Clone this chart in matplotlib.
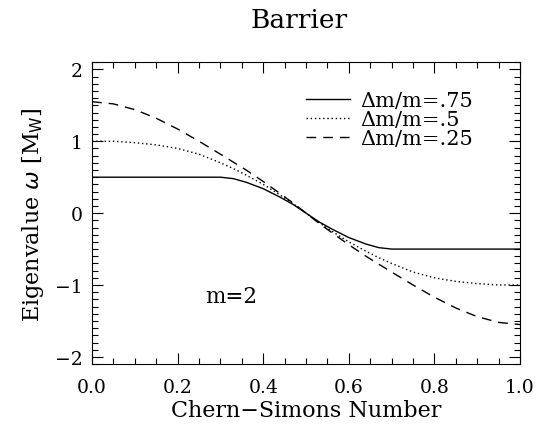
import numpy as np
import matplotlib
matplotlib.use('Agg')
import matplotlib.pyplot as plt
from matplotlib.ticker import MultipleLocator

plt.rcParams['font.family'] = 'DejaVu Serif'

# Chern-Simons number
cs = [0.00, 0.05, 0.10, 0.15, 0.20, 0.25, 0.30, 0.33, 0.36, 0.40, 0.44, 0.47, 0.50,
      0.53, 0.56, 0.60, 0.64, 0.67, 0.70, 0.75, 0.80, 0.85, 0.90, 0.95, 1.00]

# eigenvalues for the three mass splittings
w_75 = [0.50, 0.50, 0.50, 0.50, 0.50, 0.50, 0.50, 0.48, 0.43, 0.34, 0.22, 0.12, 0.00,
        -0.12, -0.22, -0.34, -0.43, -0.48, -0.50, -0.50, -0.50, -0.50, -0.50, -0.50, -0.50]
w_50 = [1.00, 1.00, 0.98, 0.95, 0.90, 0.82, 0.70, 0.62, 0.53, 0.40, 0.25, 0.13, 0.00,
        -0.13, -0.25, -0.40, -0.53, -0.62, -0.70, -0.82, -0.90, -0.95, -0.98, -1.00, -1.00]
w_25 = [1.55, 1.52, 1.44, 1.32, 1.17, 1.00, 0.82, 0.71, 0.60, 0.44, 0.27, 0.14, 0.00,
        -0.14, -0.27, -0.44, -0.60, -0.71, -0.82, -1.00, -1.17, -1.32, -1.44, -1.52, -1.55]

labels = ['Δm/m=.75', 'Δm/m=.5', 'Δm/m=.25']

fig = plt.figure(figsize=(5.48, 4.27), dpi=100)
ax = fig.add_axes([0.168, 0.145, 0.781, 0.707])

ax.plot(cs, w_75, 'k-', lw=1.0, label=labels[0])
ax.plot(cs, w_50, 'k', ls=(0, (1, 2)), lw=1.0, label=labels[1])
ax.plot(cs, w_25, 'k', ls=(0, (7, 5)), lw=1.0, label=labels[2])

ax.set_xlim(0, 1)
ax.set_ylim(-2.1, 2.1)
ax.set_xticks([0.0, 0.2, 0.4, 0.6, 0.8, 1.0])
ax.set_xticklabels(['0.0', '0.2', '0.4', '0.6', '0.8', '1.0'])
ax.set_yticks([-2, -1, 0, 1, 2])
ax.xaxis.set_minor_locator(MultipleLocator(0.05))
ax.yaxis.set_minor_locator(MultipleLocator(0.1))
ax.tick_params(which='both', direction='in', top=True, right=True, labelsize=13.5)
ax.tick_params(axis='x', pad=10)
ax.tick_params(axis='y', pad=7)
ax.tick_params(which='major', length=8, width=0.8)
ax.tick_params(which='minor', length=4, width=0.8)
for s in ax.spines.values():
    s.set_linewidth(0.8)

ax.set_xlabel('Chern\u2212Simons Number', fontsize=16, labelpad=2)
ax.set_ylabel(r'Eigenvalue $\omega$ [M$_{\rm W}$]', fontsize=16, labelpad=6)
fig.text(0.545, 0.953, 'Barrier', ha='center', va='center', fontsize=19)

ax.text(0.265, -1.15, 'm=2', fontsize=15.5, va='center')

ax.legend(loc='upper left', bbox_to_anchor=(0.50, 0.905), frameon=False, fontsize=15,
          handlelength=2.1, handletextpad=0.5, labelspacing=0.0,
          borderaxespad=0, borderpad=0)

fig.savefig('out.png', dpi=100)
